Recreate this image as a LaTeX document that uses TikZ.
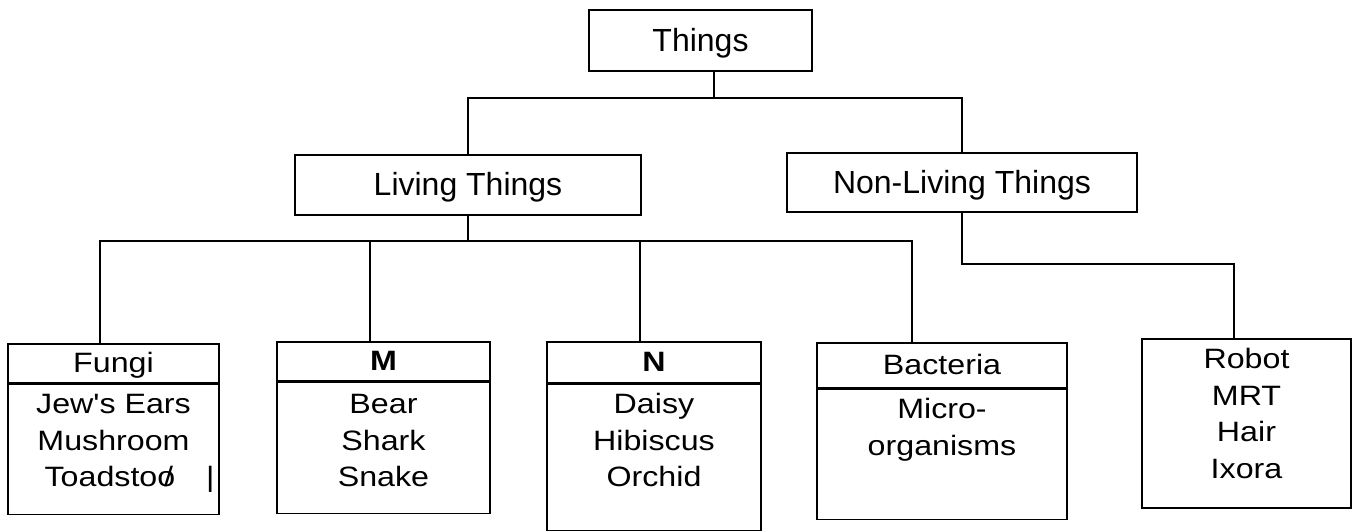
\documentclass[tikz,border=0pt]{standalone}
\usepackage{fontspec}
\setmainfont{Liberation Sans}
\newfontfamily\boxfont[FakeStretch=1.15]{Liberation Sans}
\usetikzlibrary{positioning}
\tikzset{
    every picture/.style={line width=1.5pt},
    topbox/.style={draw,inner sep=0pt,text height=23pt,text depth=2pt,font=\fontsize{32}{38}\selectfont},
    headbox/.style={draw,inner sep=0pt,text height=22pt,text depth=4pt,font=\boxfont\fontsize{28}{36.5}\selectfont},
    listbox/.style={draw,inner sep=0pt,font=\boxfont\fontsize{28}{36.5}\selectfont}
}
% height, width, first baseline, lines
\newcommand{\boxlines}[4]{\parbox[t][#1][t]{#2}{\centering\rule{0pt}{#3}#4}}

\begin{document}
\begin{tikzpicture}[x=1pt,y=-1pt]
    \useasboundingbox (0,0) rectangle (1353,531);

    % Top levels
    \node[topbox,minimum width=223pt,minimum height=61pt] (things) at (700.5,40.5) {Things};
    \node[topbox,minimum width=346pt,minimum height=60pt] (living) at (468,185) {Living Things};
    \node[topbox,minimum width=350pt,minimum height=59pt] (nonliving) at (962,182.5) {Non-Living Things};

    % Groups of living things
    \node[headbox,minimum width=211pt,minimum height=39pt] (fungi) at (113.5,363.5) {Fungi};
    \node[listbox,below=0pt of fungi] (fungilist) {\boxlines{130pt}{211pt}{29pt}{Jew's Ears\\Mushroom\\Toadstoo\llap{/\kern0.08em}\phantom{l}\rlap{\hspace{0.85em}|}}};

    \node[headbox,minimum width=213pt,minimum height=39pt] (mm) at (383.5,361.5) {\bfseries M};
    \node[listbox,below=0pt of mm] (mmlist) {\boxlines{131pt}{213pt}{31pt}{Bear\\Shark\\Snake}};

    \node[headbox,minimum width=214pt,minimum height=41pt] (nn) at (654,362.5) {\bfseries N};
    \node[listbox,below=0pt of nn] (nnlist) {\boxlines{146pt}{214pt}{29pt}{Daisy\\Hibiscus\\Orchid}};

    \node[headbox,minimum width=250pt,minimum height=45pt] (bact) at (942,365.5) {Bacteria};
    \node[listbox,below=0pt of bact] (bactlist) {\boxlines{130pt}{250pt}{29pt}{Micro-\\organisms}};

    % Non-living things
    \node[listbox,anchor=north] (robot) at (1246.5,338) {\boxlines{169pt}{209pt}{30pt}{Robot\\MRT\\Hair\\Ixora}};

    % Connectors
    \coordinate (topbus) at (714,98);
    \coordinate (livebus) at (469,241);
    \draw (things.south -| topbus) -- (topbus);
    \draw (living.north) |- (topbus) -| (nonliving.north);
    \draw (living.south) -- (living.south |- livebus);
    \foreach \n/\dx in {fungi/-13.5,mm/-13.5,nn/-14,bact/-30}
        \draw ([xshift=\dx pt]\n.north) |- (livebus);
    \draw (nonliving.south) -- ++(0,51) -| ([xshift=-12.5pt]robot.north);
\end{tikzpicture}
\end{document}
